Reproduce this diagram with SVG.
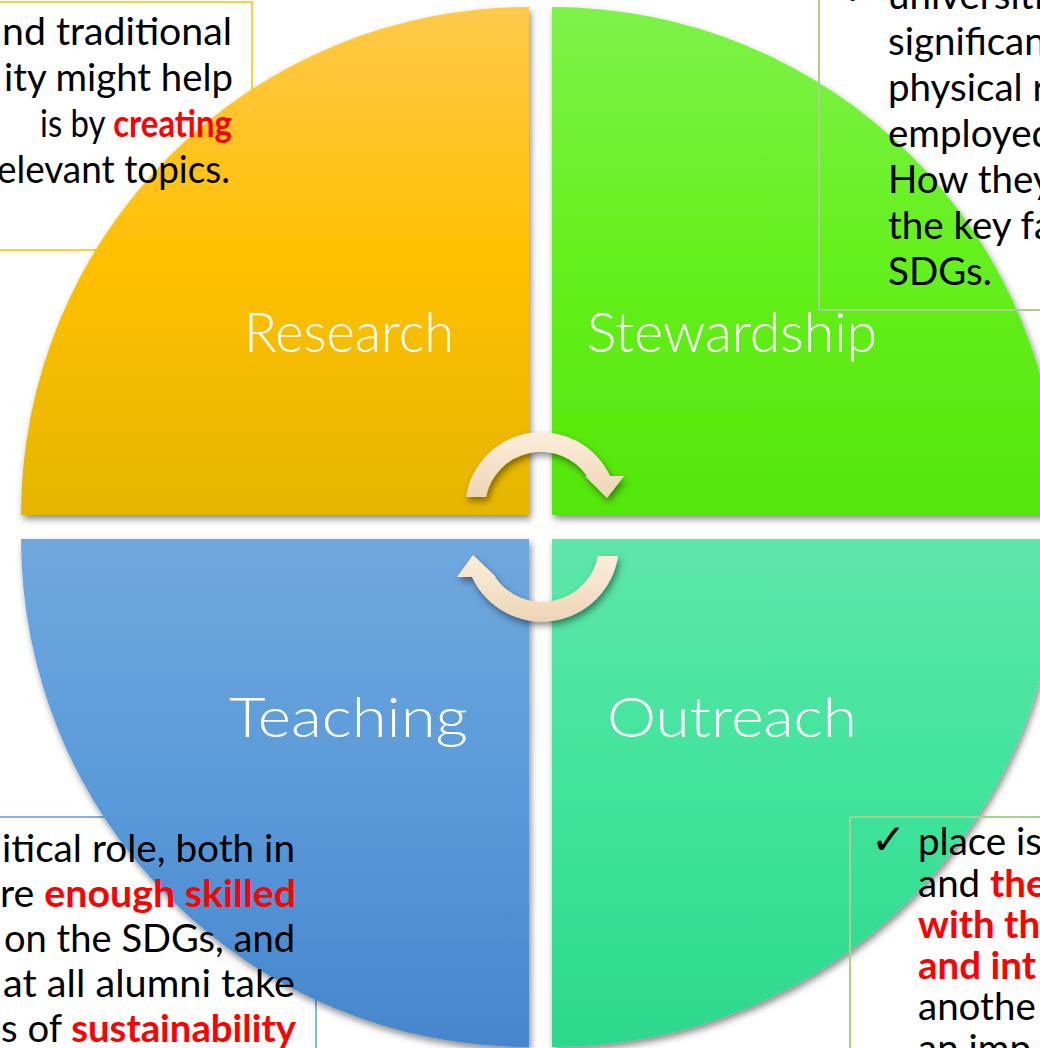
<svg xmlns="http://www.w3.org/2000/svg" width="1040" height="1048" viewBox="0 0 1040 1048">
<style>
.body{font-family:Lato,"Open Sans","Liberation Sans",sans-serif;font-size:38.5px;fill:#000}
.hl{fill:#FF0000;font-weight:bold}
.lbl{font-family:Lato,"Open Sans","Liberation Sans",sans-serif;font-weight:300;font-size:55px;fill:#FFFFFF}
.chk{font-family:"DejaVu Sans",sans-serif;font-size:42px;fill:#000}
.arrow{fill:url(#gArrow);filter:url(#shadow)}
</style>
<defs>
<filter id="shadow" x="-10%" y="-10%" width="120%" height="125%">
<feDropShadow dx="2" dy="4" stdDeviation="3.5" flood-color="#000" flood-opacity="0.45"/>
</filter>
<linearGradient id="gTL" gradientUnits="userSpaceOnUse" x1="0" y1="7" x2="0" y2="515">
<stop offset="0" stop-color="#FFC94A"/><stop offset="0.5" stop-color="#FFC000"/><stop offset="1" stop-color="#E5B600"/>
</linearGradient>
<linearGradient id="gTR" gradientUnits="userSpaceOnUse" x1="0" y1="7" x2="0" y2="515">
<stop offset="0" stop-color="#7EF24A"/><stop offset="0.5" stop-color="#64F01C"/><stop offset="1" stop-color="#55E60A"/>
</linearGradient>
<linearGradient id="gBL" gradientUnits="userSpaceOnUse" x1="0" y1="539" x2="0" y2="1047">
<stop offset="0" stop-color="#70A8DD"/><stop offset="0.5" stop-color="#5A9ADA"/><stop offset="1" stop-color="#4686CC"/>
</linearGradient>
<linearGradient id="gBR" gradientUnits="userSpaceOnUse" x1="0" y1="539" x2="0" y2="1047">
<stop offset="0" stop-color="#5EE6AA"/><stop offset="0.5" stop-color="#3FE49B"/><stop offset="1" stop-color="#2CD88C"/>
</linearGradient>
<linearGradient id="gArrow" x1="0" y1="0" x2="0" y2="1">
<stop offset="0" stop-color="#FDEEDA"/><stop offset="1" stop-color="#EED5B5"/>
</linearGradient>
</defs>

<g id="box-research-frame"><rect x="-10" y="2" width="262" height="248" fill="#FFFFFF" stroke="#FFC000" stroke-width="1.5"/></g>
<g id="box-teaching-frame"><rect x="-10" y="817" width="326" height="250" fill="#FFFFFF" stroke="#5B9BD5" stroke-width="1.5"/></g>

<g id="research"><path d="M529,515 H21 A508,508 0 0 1 529,7 Z" fill="url(#gTL)" filter="url(#shadow)"/></g>
<g id="stewardship"><path d="M552,515 V7 A508,508 0 0 1 1060,515 Z" fill="url(#gTR)" filter="url(#shadow)"/></g>
<g id="teaching"><path d="M529,539 V1047 A508,508 0 0 1 21,539 Z" fill="url(#gBL)" filter="url(#shadow)"/></g>
<g id="outreach"><path d="M552,539 H1060 A508,508 0 0 1 552,1047 Z" fill="url(#gBR)" filter="url(#shadow)"/></g>

<g id="box-stewardship-frame"><rect x="819" y="-10" width="240" height="320" fill="none" stroke="#A9D18E" stroke-width="2"/></g>
<g id="box-outreach-frame"><rect x="850" y="817" width="210" height="250" fill="none" stroke="#A9D18E" stroke-width="2"/></g>

<g id="labels">
<text class="lbl" x="244" y="352" textLength="210" lengthAdjust="spacingAndGlyphs">Research</text>
<text class="lbl" x="587" y="352" textLength="290" lengthAdjust="spacingAndGlyphs">Stewardship</text>
<text class="lbl" x="229" y="737" textLength="239" lengthAdjust="spacingAndGlyphs">Teaching</text>
<text class="lbl" x="607" y="737" textLength="250" lengthAdjust="spacingAndGlyphs">Outreach</text>
</g>

<g id="text-research">
<text class="body" x="2" y="45" textLength="230" lengthAdjust="spacingAndGlyphs">nd traditional</text>
<text class="body" x="4" y="91" textLength="229" lengthAdjust="spacingAndGlyphs">ity might help</text>
<text class="body" x="40" y="137" textLength="192" lengthAdjust="spacingAndGlyphs">is by <tspan class="hl">creating</tspan></text>
<text class="body" x="-3" y="183" textLength="233" lengthAdjust="spacingAndGlyphs">elevant topics.</text>
</g>

<g id="text-stewardship">
<text class="chk" x="842" y="5">✓</text>
<text class="body" x="888" y="9">universiti</text>
<text class="body" x="888" y="55">significan</text>
<text class="body" x="888" y="101">physical r</text>
<text class="body" x="888" y="147">employed</text>
<text class="body" x="888" y="193">How they</text>
<text class="body" x="888" y="239">the key fa</text>
<text class="body" x="888" y="285">SDGs.</text>
</g>

<g id="text-teaching">
<text class="body" x="2" y="862" textLength="293" lengthAdjust="spacingAndGlyphs">itical role, both in</text>
<text class="body" x="0" y="907" textLength="296" lengthAdjust="spacingAndGlyphs">re <tspan class="hl">enough skilled</tspan></text>
<text class="body" x="4" y="952" textLength="291" lengthAdjust="spacingAndGlyphs">on the SDGs, and</text>
<text class="body" x="3" y="997" textLength="292" lengthAdjust="spacingAndGlyphs">at all alumni take</text>
<text class="body" x="1" y="1042" textLength="295" lengthAdjust="spacingAndGlyphs">s of <tspan class="hl">sustainability</tspan></text>
</g>

<g id="text-outreach">
<text class="chk" x="871" y="854">✓</text>
<text class="body" x="918" y="855">place is</text>
<text class="body" x="918" y="897">and <tspan class="hl">the</tspan></text>
<text class="body hl" x="918" y="938">with th</text>
<text class="body hl" x="918" y="979">and int</text>
<text class="body" x="918" y="1020">anothe</text>
<text class="body" x="918" y="1062">an imp</text>
</g>

<g id="connectors">
<path class="arrow" d="M466,497 A76,76 0 0 1 610,476 L624,476 L607,498 L585,476 L587,476 A56,56 0 0 0 486,497 Z"/>
<path class="arrow" d="M618,556 A77,77 0 0 1 472,577 L457,577 L473,555 L496,577 L495,577 A57,57 0 0 0 598,556 Z"/>
</g>
</svg>
